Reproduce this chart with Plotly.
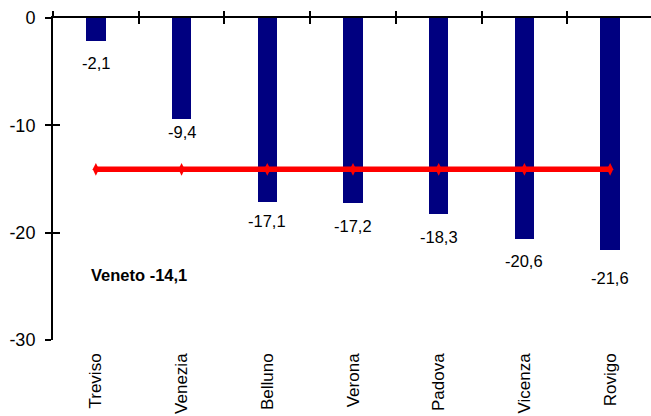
import plotly.graph_objects as go

# Variazione percentuale per provincia e media regionale
provinces = ["Treviso", "Venezia", "Belluno", "Verona", "Padova", "Vicenza", "Rovigo"]
changes = [-2.1, -9.4, -17.1, -17.2, -18.3, -20.6, -21.6]
veneto_avg = -14.1
y_ticks = [0, -10, -20, -30]

# pixel gap between bar end and its value label
label_gap = [22, 13, 19, 23, 23, 22, 28]

FONT = "Liberation Sans, Arial, sans-serif"


def fmt(v):
    return f"{v:.1f}".replace(".", ",")


fig = go.Figure()

fig.add_trace(go.Bar(
    x=provinces, y=changes, width=0.225,
    marker=dict(color="#000080", line=dict(width=0)),
    showlegend=False, hoverinfo="skip",
))

fig.add_trace(go.Scatter(
    x=provinces, y=[veneto_avg] * len(provinces),
    mode="lines+markers",
    line=dict(color="#FF0000", width=5.5),
    marker=dict(symbol="diamond-tall", size=9, color="#FF0000"),
    showlegend=False, hoverinfo="skip",
))

# helper traces so the overlay axes (tick crosses) are drawn
for xa, ya in (("x2", "y"), ("x3", "y2")):
    fig.add_trace(go.Scatter(
        x=provinces, y=[None] * len(provinces), xaxis=xa, yaxis=ya,
        mode="markers", showlegend=False, hoverinfo="skip",
    ))

for p, v, g in zip(provinces, changes, label_gap):
    fig.add_annotation(
        x=p, y=v, text=fmt(v), showarrow=False,
        yanchor="middle", xanchor="center", yshift=-g,
        font=dict(family=FONT, size=16.5, color="black"),
    )

fig.add_annotation(
    x=provinces[0], y=-23.9, text=f"<b>Veneto {fmt(veneto_avg)}</b>",
    showarrow=False, xanchor="left", yanchor="middle", xshift=-7,
    font=dict(family=FONT, size=16.5, color="black"),
)

x_range = [-0.5, 6.477]
fig.update_layout(
    width=651, height=416,
    margin=dict(l=53, r=0, t=17.5, b=76, autoexpand=False),
    paper_bgcolor="white", plot_bgcolor="white",
    font=dict(family=FONT, color="black"),
    xaxis=dict(
        type="category", range=x_range, side="bottom", automargin=False,
        showline=False, showgrid=False, zeroline=False, ticks="",
        tickangle=-90, tickfont=dict(size=17, family=FONT),
        ticklabelstandoff=9,
    ),
    xaxis2=dict(
        type="category", range=x_range, overlaying="x", matches="x", side="top",
        anchor="y", showline=True, linecolor="black", linewidth=2,
        ticks="outside", ticklen=5, tickwidth=1.5, tickcolor="black",
        tickson="boundaries", showticklabels=False, showgrid=False, zeroline=False,
    ),
    xaxis3=dict(
        type="category", range=x_range, overlaying="x", matches="x", side="top",
        anchor="y2", showline=False,
        ticks="inside", ticklen=6, tickwidth=1.5, tickcolor="black",
        tickson="boundaries", showticklabels=False, showgrid=False, zeroline=False,
    ),
    yaxis=dict(
        range=[-30, 0], tickvals=y_ticks, ticktext=[str(t) for t in y_ticks],
        showline=True, linecolor="black", linewidth=2, automargin=False,
        ticks="outside", ticklen=6, tickwidth=1.5, tickcolor="black",
        showgrid=False, zeroline=False, tickfont=dict(size=18, family=FONT),
        ticklabelstandoff=6,
    ),
    yaxis2=dict(
        range=[-30, 0], tickvals=y_ticks, overlaying="y", side="left", anchor="x",
        showline=False, ticks="inside", ticklen=7, tickwidth=1.5, tickcolor="black",
        showticklabels=False, showgrid=False, zeroline=False,
    ),
    bargap=0,
)

fig.write_html("out.html")
